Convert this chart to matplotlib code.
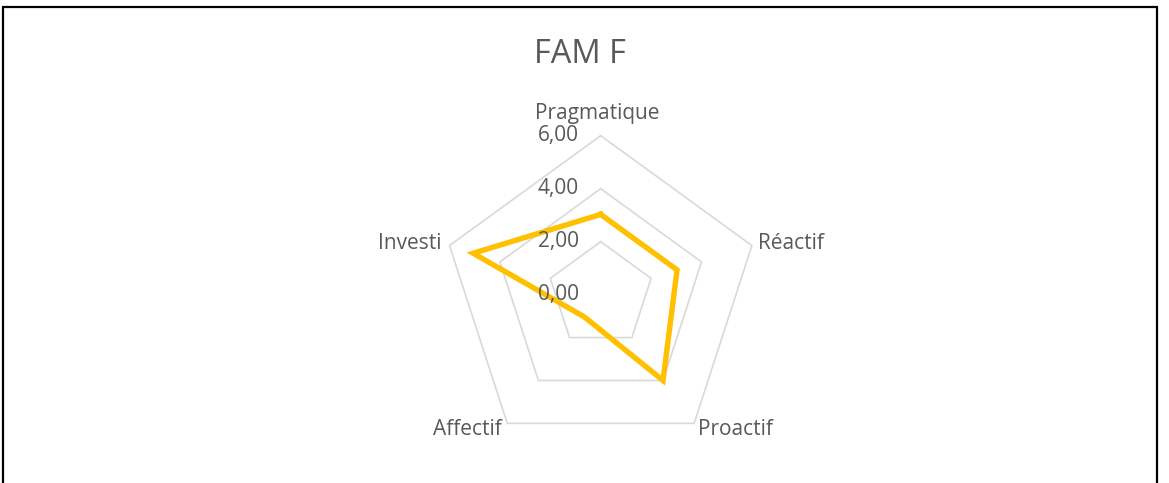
import matplotlib
matplotlib.use('Agg')
import matplotlib.pyplot as plt
from matplotlib.patches import Rectangle
import numpy as np

# data
categories = ['Pragmatique', 'Réactif', 'Proactif', 'Affectif', 'Investi']
values = [3.03, 3.03, 4.0, 1.04, 5.06]
rings = [0, 2, 4, 6]
ring_labels = ['0,00', '2,00', '4,00', '6,00']
title = 'FAM F'

plt.rcParams['font.family'] = ['Open Sans', 'DejaVu Sans']
text_col = '#595959'
grid_col = '#D9D9D9'
line_col = '#FFC000'

W, H = 1169, 483
fig = plt.figure(figsize=(W / 100, H / 100), dpi=100)

# polar axes placed so centre sits at (600.7, 294.7) px, radius 159 px
cx, cy, R = 600.7, 294.7, 159
ax = fig.add_axes([(cx - R) / W, (H - cy - R) / H, 2 * R / W, 2 * R / H],
                  projection='polar')
ax.set_theta_offset(np.pi / 2)
ax.set_theta_direction(-1)
ax.set_ylim(0, 6)
ax.grid(False)
ax.spines['polar'].set_visible(False)
ax.set_xticks([])
ax.set_yticks([])
ax.patch.set_alpha(0)

n = len(categories)
angles = np.linspace(0, 2 * np.pi, n, endpoint=False)
closed = np.concatenate([angles, angles[:1]])

# pentagon gridlines
for r in rings[1:]:
    ax.plot(closed, [r] * (n + 1), color=grid_col, lw=1.2, clip_on=False, zorder=1)

# data series
vals = values + values[:1]
ax.plot(closed, vals, color=line_col, lw=3.9, solid_joinstyle='miter',
        clip_on=False, zorder=3)

# ring value labels
for r, lab in zip(rings, ring_labels):
    ax.annotate(lab, xy=(0, r), xytext=(-22, 0), textcoords='offset pixels',
                ha='right', va='center', fontsize=15, color=text_col)

# category labels
offsets = {
    'Pragmatique': ((-3, 17), 'center', 'baseline'),
    'Réactif': ((6, -3), 'left', 'baseline'),
    'Proactif': ((4, -12), 'left', 'baseline'),
    'Affectif': ((-5, -12), 'right', 'baseline'),
    'Investi': ((-8, -3), 'right', 'baseline'),
}
for ang, cat in zip(angles, categories):
    off, ha, va = offsets[cat]
    ax.annotate(cat, xy=(ang, 6), xytext=off, textcoords='offset pixels',
                ha=ha, va=va, fontsize=15, color=text_col)

fig.text(580 / W, 1 - 62.7 / H, title, ha='center', va='baseline',
         fontsize=23.5, color=text_col)

# outer frame
fig.patches.append(Rectangle((3 / W, -0.1), (1156.5 - 3) / W, 1 - 7.5 / H + 0.1,
                             transform=fig.transFigure, fill=False,
                             edgecolor='black', lw=1.6))

fig.savefig('out.png', dpi=100)
